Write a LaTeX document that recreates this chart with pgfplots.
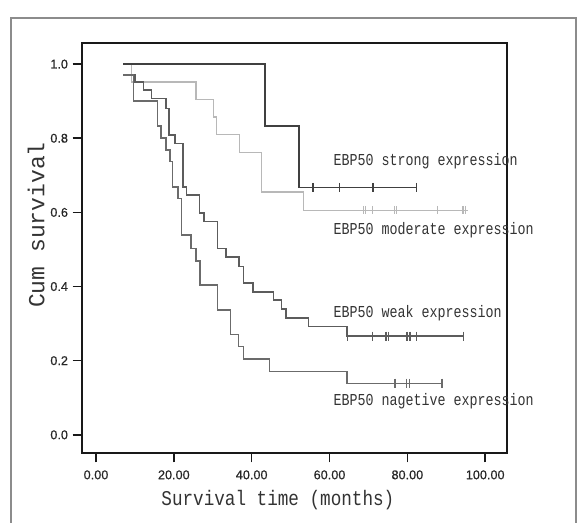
\documentclass[border=0pt]{standalone}
\usepackage{fontspec}
\setmainfont{Liberation Sans}
\newfontfamily\tickfont[FakeBold=0.6]{Liberation Sans}
\newfontfamily\lblfont[FakeStretch=0.8]{Liberation Mono}
\newfontfamily\xlblfont[FakeStretch=0.84]{Liberation Mono}
\newfontfamily\ylblfont{Liberation Mono}
\usepackage{pgfplots}
\pgfplotsset{compat=1.18}
\definecolor{cstrong}{gray}{0.25}
\definecolor{cweak}{gray}{0.36}
\definecolor{cneg}{gray}{0.42}
\definecolor{cmod}{gray}{0.72}
\definecolor{ctext}{gray}{0.2}
\begin{document}
\begin{tikzpicture}[x=1pt,y=1pt]
\path[use as bounding box] (0,0) rectangle (433.5,392.25);
\draw[black!45, line width=1.1pt] (8.25,-2) -- (8.25,378.75) -- (432,378.75) -- (432,-2);
\begin{axis}[
  at={(61.5pt,52.5pt)}, anchor=south west,
  scale only axis, width=318.75pt, height=307.5pt,
  xmin=-3.6, xmax=105.6, ymin=-0.049, ymax=1.057,
  axis line style={line width=1.4pt, black!90},
  tick align=outside, tick pos=left,
  major tick length=7pt,
  every tick/.style={line width=1.2pt, black!90},
  xtick={0,20,40,60,80,100},
  ytick={0,0.2,0.4,0.6,0.8,1.0},
  xticklabel style={/pgf/number format/.cd, fixed, fixed zerofill, precision=2, assume math mode=true},
  yticklabel style={/pgf/number format/.cd, fixed, fixed zerofill, precision=1, assume math mode=true},
  xticklabel shift=2.5pt,
  tick label style={font=\tickfont\fontsize{9.5}{10}\selectfont, text=black!85},
  xlabel={Survival time (months)},
  ylabel={Cum survival},
  xlabel style={font=\xlblfont\fontsize{15.75}{16}\selectfont, text=ctext, at={(axis description cs:0.461,-0.1146)}, anchor=center},
  ylabel style={font=\ylblfont\fontsize{17.25}{18}\selectfont, text=ctext, at={(axis description cs:-0.108,0.556)}, anchor=center},
  clip=false,
]
% moderate
\addplot[const plot, cmod, line width=1.0pt] coordinates {
(7,1.0) (9.2,0.952) (25.7,0.905) (30.2,0.857) (31.0,0.810) (36.8,0.762) (42.5,0.655) (53.3,0.606) (95.5,0.606)};
\addplot[only marks, mark=|, mark size=3.2pt, cmod, mark options={line width=0.9pt}] coordinates {
(68.7,0.606) (69.3,0.606) (71.1,0.606) (76.7,0.606) (77.3,0.606) (87.8,0.606) (94.3,0.606) (95.0,0.606)};
% strong
\addplot[const plot, cstrong, line width=1.25pt] coordinates {
(7,1.0) (43.4,0.833) (52.2,0.667) (82.3,0.667)};
\addplot[only marks, mark=|, mark size=3.5pt, cstrong, mark options={line width=1.1pt}] coordinates {
(55.7,0.667) (62.5,0.667) (71.2,0.667) (82.3,0.667)};
% weak
\addplot[const plot, cweak, line width=1.15pt] coordinates {
(7,0.97) (10,0.952) (12.2,0.930) (14.3,0.907) (18.0,0.880) (18.8,0.809) (20.3,0.786) (22.3,0.669) (23.3,0.647) (26.6,0.598) (27.8,0.575) (31.2,0.503) (33.4,0.479) (36.8,0.454) (37.9,0.409) (40.3,0.386) (45.6,0.364) (47.7,0.340) (48.8,0.315) (54.6,0.292) (64.5,0.266) (94.4,0.266)};
\addplot[only marks, mark=|, mark size=3.5pt, cweak, mark options={line width=1.0pt}] coordinates {
(64.7,0.266) (71.1,0.266) (74.5,0.266) (75.1,0.266) (79.9,0.266) (80.7,0.266) (82.3,0.266) (94.4,0.266)};
% negative
\addplot[const plot, cneg, line width=1.15pt] coordinates {
(7,0.97) (9.6,0.900) (15.8,0.833) (16.7,0.800) (18.0,0.768) (19.0,0.737) (19.7,0.669) (21.0,0.638) (22.0,0.539) (24.4,0.503) (25.7,0.469) (26.7,0.404) (31.2,0.337) (34.6,0.271) (36.6,0.238) (37.9,0.205) (44.6,0.171) (64.5,0.139) (88.9,0.139)};
\addplot[only marks, mark=|, mark size=3.5pt, cneg, mark options={line width=1.0pt}] coordinates {
(76.8,0.139) (79.7,0.139) (80.5,0.139) (88.9,0.139)};
% labels
\node[anchor=west, font=\lblfont\fontsize{12.5}{13}\selectfont, text=ctext, inner sep=0pt] at (axis cs:61,0.737) {EBP50 strong expression};
\node[anchor=west, font=\lblfont\fontsize{12.5}{13}\selectfont, text=ctext, inner sep=0pt] at (axis cs:61,0.553) {EBP50 moderate expression};
\node[anchor=west, font=\lblfont\fontsize{12.5}{13}\selectfont, text=ctext, inner sep=0pt] at (axis cs:61,0.328) {EBP50 weak expression};
\node[anchor=west, font=\lblfont\fontsize{12.5}{13}\selectfont, text=ctext, inner sep=0pt] at (axis cs:61,0.090) {EBP50 nagetive expression};
\end{axis}
\end{tikzpicture}
\end{document}
